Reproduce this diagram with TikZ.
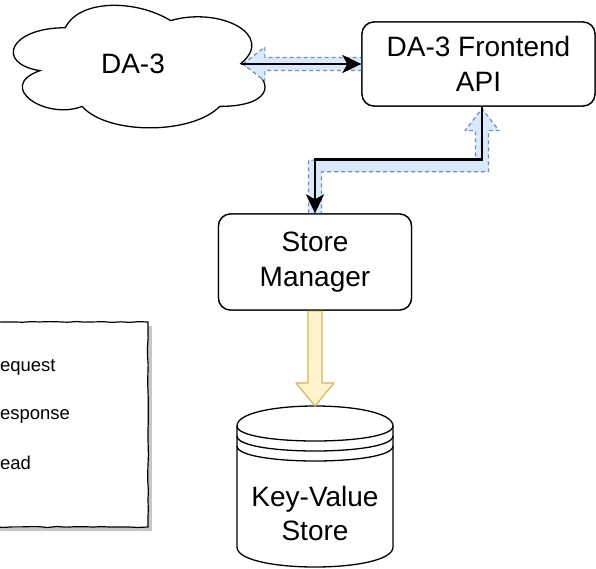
\documentclass[tikz,border=0pt]{standalone}
\usepackage{fontspec}
\setmainfont{Liberation Sans}
\usetikzlibrary{arrows.meta,calc,decorations.pathmorphing}
\definecolor{bfill}{HTML}{DAE8FC}
\definecolor{bline}{HTML}{6C8EBF}
\definecolor{yfill}{HTML}{FFF2CC}
\definecolor{yline}{HTML}{D6B656}
\begin{document}
\begin{tikzpicture}[x=1pt,y=-1pt,
  box/.style={draw, line width=1.3pt, rounded corners=12pt, fill=white, align=center,
    font=\fontsize{28}{35}\selectfont, inner sep=0pt},
  lbl/.style={align=center, font=\fontsize{28}{34}\selectfont, inner sep=0pt},
  shapeline/.style={draw, line width=1.3pt, fill=white},
  req/.style={line width=2.8pt, -{Stealth[length=19pt,width=18pt,inset=5pt]}},
  flexb/.style={draw=bline, fill=bfill, dash pattern=on 4pt off 3pt, line width=1.2pt, line join=round},
  flexy/.style={draw=yline, fill=yfill, line width=1.2pt, line join=round},
  leg/.style={font=\fontsize{18.5}{22}\selectfont, inner sep=0pt, anchor=base west},
]
\useasboundingbox (0,0) rectangle (596,569);

% legend (partly off the page)
\fill[black, opacity=0.22] (-147,326) rectangle (152,531);
\draw[decorate, decoration={random steps,segment length=9pt,amplitude=0.5pt}, fill=white, line width=1.2pt]
  (-150,322) rectangle (148,527);
\node[leg] (lreq) at (-13.5,371) {Request};
\node[leg] (lres) at (-13.5,419) {Response};
\node[leg] (lread) at (-13.5,469) {Read};

% cloud
\draw[shapeline] (65.25,27.75) .. controls (9.05,27.75) and (-5,63.5) .. (39.96,70.65)
  .. controls (-5,86.38) and (45.58,120.7) .. (82.11,106.4)
  .. controls (107.4,135) and (191.7,135) .. (219.8,106.4)
  .. controls (276,106.4) and (276,77.8) .. (240.875,63.5)
  .. controls (276,34.9) and (219.8,6.3) .. (170.625,20.6)
  .. controls (135.5,-0.85) and (79.3,-0.85) .. (65.25,27.75) -- cycle;
\coordinate (cloudR) at (240.875,64);
\node[lbl] (da3) at (133,64) {DA-3};

% nodes
\node[box, minimum width=233pt, minimum height=84pt] (fe) at (478.5,64) {DA-3 Frontend\\API};
\node[box, minimum width=193pt, minimum height=96pt] (sm) at (315,262) {Store\\Manager};
\coordinate (feb) at ($(fe.south)+(3.5,0)$);
\coordinate (mid) at ($(sm.north)+(0,-54)$);

% key-value store cylinder
\coordinate (kvtop) at (315,406);
\draw[shapeline] (237,426) .. controls (237,399.33) and (393,399.33) .. (393,426)
  -- (393,547) .. controls (393,573.67) and (237,573.67) .. (237,547) -- cycle;
\draw[line width=1.3pt] (237,426) .. controls (237,446) and (393,446) .. (393,426);
\draw[line width=1.3pt] (237,436) .. controls (237,456) and (393,456) .. (393,436);
\draw[line width=1.3pt] (237,446) .. controls (237,466) and (393,466) .. (393,446);
\node[lbl] (kv) at (315,513.5) {Key-Value\\Store};

% response arrows (blue, behind)
\path[flexb] ($(cloudR)+(2,0)$) -- ++(22,-17) -- ++(0,10.5) -- ($(fe.west)+(0,-6.5)$)
  -- ($(fe.west)+(0,6.5)$) -- ($(cloudR)+(24,6.5)$) -- ++(0,10.5) -- cycle;
\path[flexb] ($(sm.north)+(-6.5,0)$) |- ($(feb)+(-6.5,53.5)$) -- ($(feb)+(-6.5,24)$)
  -- ($(feb)+(-17,24)$) -- ($(feb)+(0,2)$) -- ($(feb)+(17,24)$) -- ($(feb)+(6.5,24)$)
  |- ($(sm.north)+(6.5,-41.5)$) -- ($(sm.north)+(6.5,0)$) -- cycle;

% read arrow (yellow)
\path[flexy] ($(sm.south)+(-7,0)$) -- ($(kvtop)+(-7,-23)$) -- ($(kvtop)+(-19,-23)$) -- (kvtop)
  -- ($(kvtop)+(19,-23)$) -- ($(kvtop)+(7,-23)$) -- ($(sm.south)+(7,0)$) -- cycle;

% request arrows (black)
\draw[req] (cloudR) -- (cloudR -| fe.west);
\draw[req] (feb) |- (mid) -- (sm.north);

% redraw boxes on top
\node[box, minimum width=233pt, minimum height=84pt] at (fe) {DA-3 Frontend\\API};
\node[box, minimum width=193pt, minimum height=96pt] at (sm) {Store\\Manager};
\end{tikzpicture}
\end{document}
